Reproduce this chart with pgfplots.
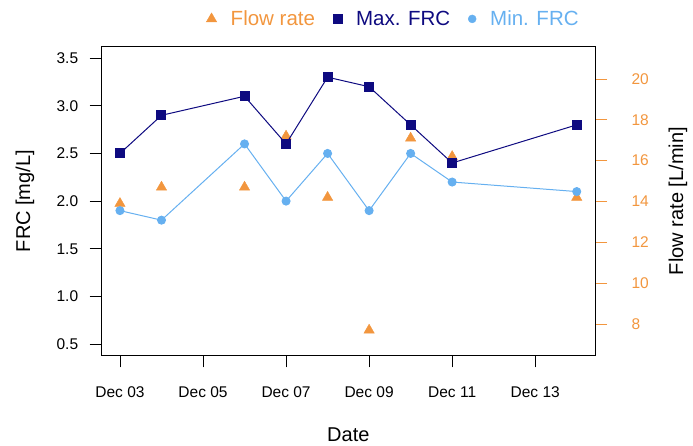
\documentclass[border=0pt]{standalone}
\usepackage{fontspec}
\setmainfont{Liberation Sans}
\usepackage{pgfplots}
\pgfplotsset{compat=1.18}
\definecolor{flow}{RGB}{242,150,62}
\definecolor{maxc}{RGB}{14,10,128}
\definecolor{minc}{RGB}{102,176,240}

\begin{document}
\begin{tikzpicture}
\pgfplotsset{
  every axis/.append style={
    scale only axis, width=493.3pt, height=308.8pt,
    xmin=2.56, xmax=14.44,
    tick align=outside, major tick length=12pt,
    /pgf/number format/assume math mode=true,
    tick label style={font=\fontsize{15.5}{18}\selectfont},
    axis line style={line width=0.9pt},
    every tick/.style={line width=0.8pt},
  }
}
% flow rate (right axis)
\begin{axis}[
  ymin=6.46, ymax=21.58,
  axis x line=none,
  axis y line*=right,
  y axis line style={draw=none},
  ytick={8,10,...,20},
  ytick style={flow, line width=0.8pt},
  yticklabel style={flow, xshift=21pt},
  every axis y label/.style={at={(axis description cs:1.168,0.5)}, rotate=90, anchor=center,
    font=\fontsize{20}{24}\selectfont},
  ylabel={Flow rate [L/min]},
  legend columns=3,
  legend style={draw=none, fill=none, at={(axis description cs:0.5915,1.09)}, anchor=center,
    font=\fontsize{20.5}{24}\selectfont,
    /tikz/every odd column/.append style={column sep=12pt},
    /tikz/every even column/.append style={column sep=16pt}},
  legend image code/.code={\draw[#1] plot coordinates {(5pt,0pt)};},
]
\addplot[only marks, flow, mark=triangle*, mark size=6pt] coordinates {
  (3,13.9) (4,14.7) (6,14.7) (7,17.2) (8,14.2) (9,7.7) (10,17.1) (11,16.2) (14,14.2)
};
\addlegendentry{\textcolor{flow}{Flow rate}}
\addlegendimage{only marks, maxc, mark=square*, mark size=4.5pt}
\addlegendentry{\textcolor{maxc}{Max. FRC}}
\addlegendimage{only marks, minc, mark=*, mark size=4pt}
\addlegendentry{\textcolor{minc}{Min. FRC}}
\draw[flow, line width=0.8pt] (axis cs:14.44,8) -- (axis cs:14.44,20);
\end{axis}
% FRC (left axis)
\begin{axis}[
  ymin=0.38, ymax=3.62,
  ytick={0.5,1,...,3.5},
  yticklabel style={xshift=-8pt, /pgf/number format/.cd, fixed, fixed zerofill, precision=1},
  xtick={3,5,7,9,11,13},
  xticklabels={Dec 03, Dec 05, Dec 07, Dec 09, Dec 11, Dec 13},
  xticklabel style={yshift=-15.5pt},
  xtick pos=lower, ytick pos=left,
  every axis x label/.style={at={(axis description cs:0.5,-0.258)}, anchor=center,
    font=\fontsize{20}{24}\selectfont},
  every axis y label/.style={at={(axis description cs:-0.1555,0.5)}, rotate=90, anchor=center,
    font=\fontsize{20}{24}\selectfont},
  xlabel={Date}, ylabel={FRC [mg/L]},
]
\addplot[maxc, line width=1pt, mark=square*, mark size=4.5pt] coordinates {
  (3,2.5) (4,2.9) (6,3.1) (7,2.6) (8,3.3) (9,3.2) (10,2.8) (11,2.4) (14,2.8)
};
\addplot[minc, line width=1pt, mark=*, mark size=4pt] coordinates {
  (3,1.9) (4,1.8) (6,2.6) (7,2.0) (8,2.5) (9,1.9) (10,2.5) (11,2.2) (14,2.1)
};
\coordinate (bl) at (rel axis cs:0,0);
\coordinate (tr) at (rel axis cs:1,1);
\end{axis}
\pgfresetboundingbox
\path[use as bounding box] ([shift={(-101.7pt,-90.5pt)}]bl) rectangle ([shift={(98pt,46.7pt)}]tr);
\end{tikzpicture}
\end{document}
